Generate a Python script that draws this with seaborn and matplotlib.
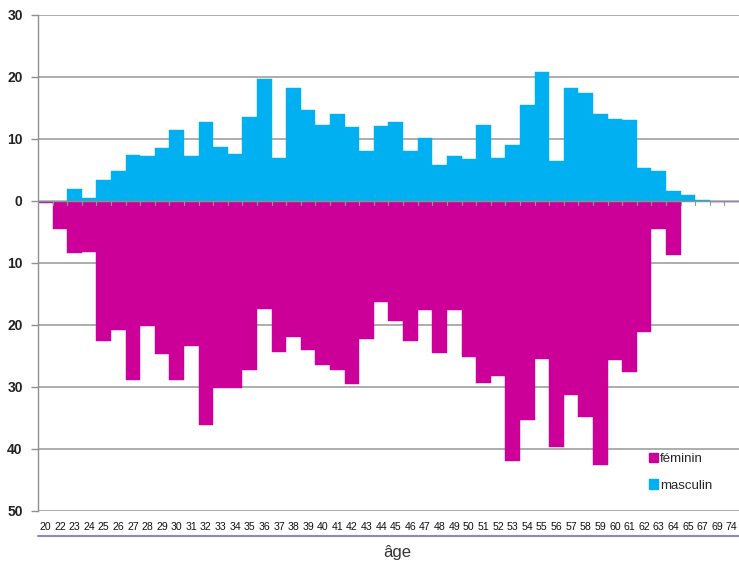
import numpy as np
import pandas as pd
import matplotlib
matplotlib.use("Agg")
import matplotlib.pyplot as plt
from matplotlib.lines import Line2D
from matplotlib.patches import Patch
import seaborn as sns

# ages shown on the axis (categorical, not continuous)
ages = [20, 22] + list(range(23, 66)) + [67, 69, 74]

masculin = [0, 0, 1.9, 0.55, 3.4, 4.8, 7.4, 7.3, 8.5, 11.5,
            7.3, 12.7, 8.7, 7.6, 13.5, 19.7, 7.0, 18.3, 14.6, 12.2,
            14.0, 11.9, 8.1, 12.1, 12.7, 8.0, 10.1, 5.8, 7.3, 6.8,
            12.3, 7.0, 9.0, 15.5, 20.8, 6.4, 18.3, 17.5, 14.0, 13.2,
            13.1, 5.3, 4.9, 1.6, 0.9, 0.15, 0, 0]

feminin = [0.3, 4.5, 8.4, 8.2, 22.5, 20.8, 28.9, 20.2, 24.7, 28.9,
           23.4, 36.1, 30.2, 30.2, 27.2, 17.4, 24.4, 21.9, 24.1, 26.5,
           27.2, 29.5, 22.2, 16.3, 19.4, 22.6, 17.5, 24.5, 17.5, 25.1,
           29.4, 28.2, 41.9, 35.3, 25.5, 39.7, 31.3, 34.8, 42.5, 25.6,
           27.6, 21.1, 4.5, 8.7, 0, 0, 0.2, 0.2]

y_ticks = [30, 20, 10, 0, -10, -20, -30, -40, -50]

BLUE = "#00B0F0"
MAGENTA = "#CC0099"

sns.set_style("white")
plt.rcParams["font.family"] = ["Liberation Sans", "DejaVu Sans"]

df = pd.DataFrame({
    "age": [str(a) for a in ages],
    "masculin": masculin,
    "feminin": [-v for v in feminin],
})
order = df["age"].tolist()

fig = plt.figure(figsize=(7.39, 5.61), dpi=100)
ax = fig.add_axes([38 / 739, 1 - 511 / 561, 1 - 38 / 739, (511 - 15) / 561])

sns.barplot(data=df, x="age", y="feminin", order=order, color=MAGENTA,
            width=1.0, saturation=1, edgecolor=MAGENTA, linewidth=0.3, ax=ax)
sns.barplot(data=df, x="age", y="masculin", order=order, color=BLUE,
            width=1.0, saturation=1, edgecolor=BLUE, linewidth=0.3, ax=ax)

ax.set_ylim(-50, 30)
ax.set_xlim(-0.5, len(ages) - 0.5)
ax.set_yticks(y_ticks)
ax.set_yticklabels([str(abs(t)) for t in y_ticks], fontsize=10, fontweight="bold",
                   color="#222222")
for t in y_ticks:
    if t != 0:
        ax.axhline(t, color="#a0a0a0", lw=1.2, zorder=0)
ax.axhline(0, color="#909090", lw=1.0, zorder=3)
# small category tick marks along the zero line
for k in range(len(ages) + 1):
    ax.plot([k - 0.5, k - 0.5], [0, -0.7], color="#7f9f8f", lw=0.8, zorder=3)

ax.set_xticks(range(len(ages)))
ax.set_xticklabels(order, fontsize=7.6, color="#111111")
ax.tick_params(axis="x", length=0, pad=8)
ax.tick_params(axis="y", length=5, width=1, color="#909090", pad=6, left=True)
ax.set_xlabel("")
ax.set_ylabel("")

for side in ["top", "right", "bottom"]:
    ax.spines[side].set_visible(False)
ax.spines["left"].set_color("#909090")
ax.spines["left"].set_linewidth(1.0)

# purple line under the category labels
fig.add_artist(Line2D([38 / 739, 1.0], [1 - 536 / 561] * 2, color="#8e88c6", lw=1.5))
fig.text(397 / 739, 1 - 552 / 561, "âge", ha="center", va="center", fontsize=12,
         color="#333333")

handles = [Patch(color=MAGENTA, label="féminin"), Patch(color=BLUE, label="masculin")]
ax.legend(handles=handles, loc="lower left", bbox_to_anchor=(0.855, 0.015), frameon=False,
          fontsize=9.5, handlelength=0.7, handleheight=0.7, handletextpad=0.1,
          labelspacing=1.1)

fig.savefig("out.png", dpi=100)
